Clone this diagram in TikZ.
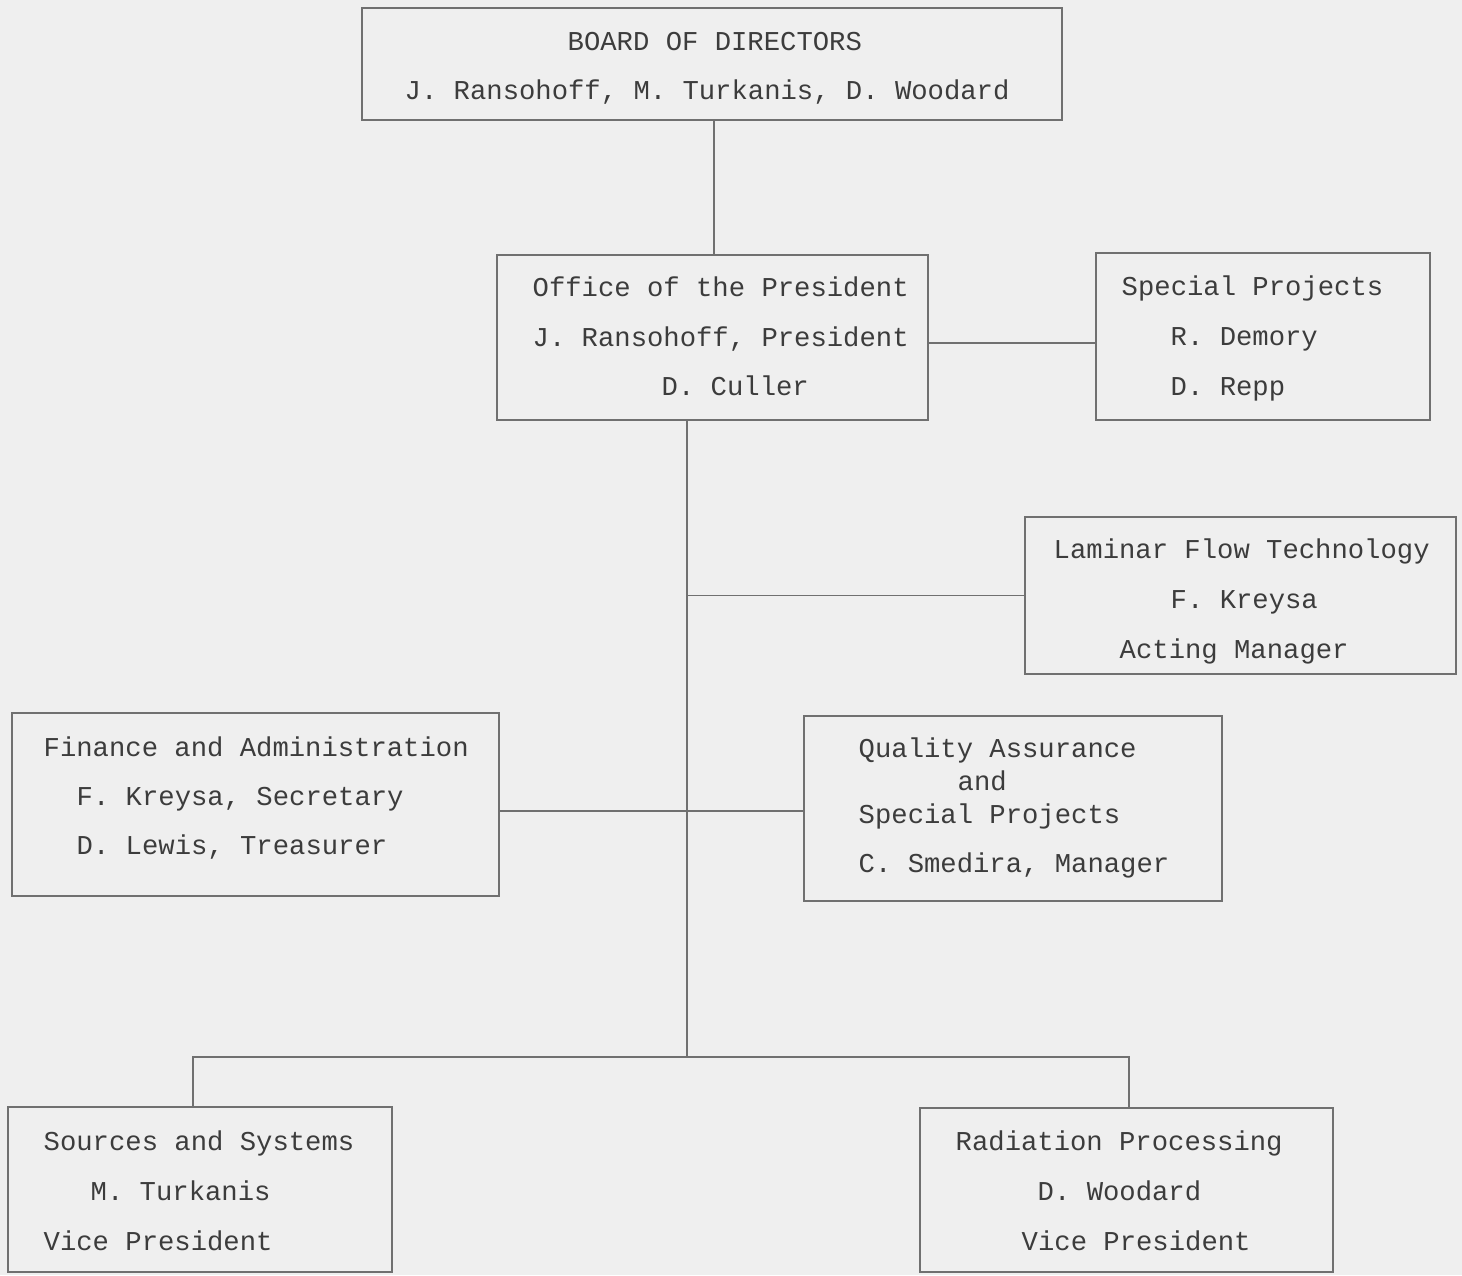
\documentclass[tikz,border=0pt]{standalone}
\usepackage{fontspec}
\setmonofont{Liberation Mono}
\definecolor{paper}{HTML}{EFEFEF}
\definecolor{ink}{HTML}{3C3C3C}
\definecolor{rule}{HTML}{707070}
\tikzset{
  box/.style={draw=rule, line width=0.55pt, rectangle, inner sep=0pt},
  txt/.style={anchor=base west, inner sep=0pt, text=ink,
    font=\ttfamily\fontsize{7.75}{9}\selectfont},
  link/.style={draw=rule, line width=0.55pt}
}
\begin{document}
\begin{tikzpicture}
	    \fill[paper] (0,0) rectangle (14.62,-12.75);
	    \useasboundingbox (0,0) rectangle (14.62,-12.75);
	    
	    % Boxes
	    \node[box, minimum width=7.00cm, minimum height=1.12cm] (board) at (7.12,-0.64) {};
	    \node[box, minimum width=4.31cm, minimum height=1.65cm] (office) at (7.125,-3.375) {};
	    \node[box, minimum width=3.34cm, minimum height=1.67cm] (special) at (12.63,-3.365) {};
	    \node[box, minimum width=4.31cm, minimum height=1.57cm] (laminar) at (12.405,-5.955) {};
	    \node[box, minimum width=4.87cm, minimum height=1.83cm] (finance) at (2.555,-8.045) {};
	    \node[box, minimum width=4.18cm, minimum height=1.85cm] (qa) at (10.13,-8.085) {};
	    \node[box, minimum width=3.84cm, minimum height=1.65cm] (sources) at (2.00,-11.895) {};
	    \node[box, minimum width=4.13cm, minimum height=1.64cm] (radiation) at (11.265,-11.90) {};
	    
	    % Board of directors
	    \node[txt] (boardA) at (5.67,-0.50) {BOARD OF DIRECTORS};
	    \node[txt] (boardB) at (4.04,-0.99) {J. Ransohoff, M. Turkanis, D. Woodard};
	    
	    % Office of the president
	    \node[txt] (officeA) at (5.32,-2.96) {Office of the President};
	    \node[txt] (officeB) at (5.32,-3.46) {J. Ransohoff, President};
	    \node[txt] (officeC) at (6.61,-3.95) {D. Culler};
	    
	    % Special projects
	    \node[txt] (specialA) at (11.21,-2.95) {Special Projects};
	    \node[txt] (specialB) at (11.70,-3.45) {R. Demory};
	    \node[txt] (specialC) at (11.70,-3.95) {D. Repp};
	    
	    % Laminar flow
	    \node[txt] (laminarA) at (10.53,-5.58) {Laminar Flow Technology};
	    \node[txt] (laminarB) at (11.70,-6.08) {F. Kreysa};
	    \node[txt] (laminarC) at (11.19,-6.58) {Acting Manager};
	    
	    % Finance
	    \node[txt] (financeA) at (0.43,-7.56) {Finance and Administration};
	    \node[txt] (financeB) at (0.76,-8.05) {F. Kreysa, Secretary};
	    \node[txt] (financeC) at (0.76,-8.54) {D. Lewis, Treasurer};
	    
	    % Quality assurance
	    \node[txt] (qaA) at (8.58,-7.57) {Quality Assurance};
	    \node[txt] (qaB) at (9.57,-7.90) {and};
	    \node[txt] (qaC) at (8.58,-8.23) {Special Projects};
	    \node[txt] (qaD) at (8.58,-8.72) {C. Smedira, Manager};
	    
	    % Sources and systems
	    \node[txt] (sourcesA) at (0.43,-11.50) {Sources and Systems};
	    \node[txt] (sourcesB) at (0.90,-12.00) {M. Turkanis};
	    \node[txt] (sourcesC) at (0.43,-12.50) {Vice President};
	    
	    % Radiation processing
	    \node[txt] (radiationA) at (9.55,-11.50) {Radiation Processing};
	    \node[txt] (radiationB) at (10.37,-12.00) {D. Woodard};
	    \node[txt] (radiationC) at (10.21,-12.50) {Vice President};
	    
	    % Connecting lines
	    \coordinate (top) at (7.14,-1.20);
	    \coordinate (side) at (9.28,-3.43);
	    \coordinate (mid) at (4.99,-8.11);
	    \coordinate (hub) at (6.87,-10.57);
	    \coordinate (tieL) at (1.93,-10.57);
	    \coordinate (tieR) at (11.29,-10.57);
	    \draw[link] (top) -- (top |- office.north);
	    \draw[link] (side) -- (side -| special.west);
	    \draw[link] (office.south -| hub) -- (hub);
	    \draw[link] (hub |- laminar.west) -- (laminar.west);
	    \draw[link] (mid) -- (mid -| qa.west);
	    \draw[link] (tieL |- sources.north) -- (tieL) -- (tieR) -- (tieR |- radiation.north);
\end{tikzpicture}
\end{document}
